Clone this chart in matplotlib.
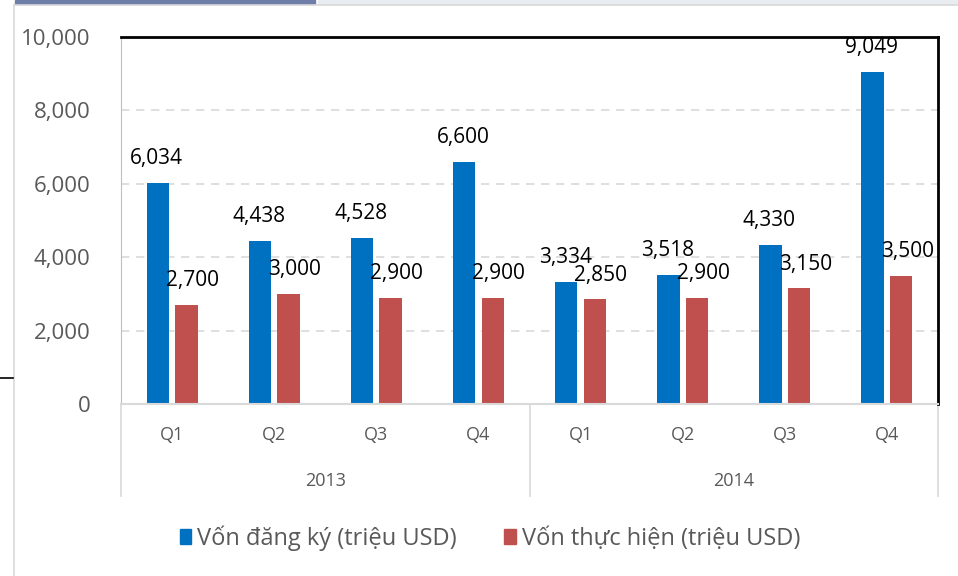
import matplotlib.pyplot as plt
import matplotlib.patches as mpatches
from matplotlib.lines import Line2D
import numpy as np

years = ["2013", "2014"]
quarters = ["Q1", "Q2", "Q3", "Q4", "Q1", "Q2", "Q3", "Q4"]
registered = [6034, 4438, 4528, 6600, 3334, 3518, 4330, 9049]
implemented = [2700, 3000, 2900, 2900, 2850, 2900, 3150, 3500]
series_names = ["Vốn đăng ký (triệu USD)", "Vốn thực hiện (triệu USD)"]

blue = "#0070C0"
red = "#C0504D"
grey_text = "#595959"
plt.rcParams["font.family"] = ["Open Sans", "DejaVu Sans"]

fig = plt.figure(figsize=(9.58, 5.76), dpi=100)
ax = fig.add_axes([121 / 958, 1 - 404 / 576, 817 / 958, 367 / 576])

# screenshot frame bits
fig.patches.append(mpatches.Rectangle((15 / 958, 1 - 4 / 576), 300 / 958, 4 / 576,
                                      transform=fig.transFigure, color="#6F7DA9"))
fig.patches.append(mpatches.Rectangle((318 / 958, 1 - 4 / 576), 640 / 958, 4 / 576,
                                      transform=fig.transFigure, color="#E9ECF1"))
fig.lines.append(Line2D([14 / 958, 1], [1 - 5 / 576] * 2, transform=fig.transFigure,
                        color="#D9D9D9", lw=1.2))
fig.lines.append(Line2D([14 / 958] * 2, [0, 1 - 5 / 576], transform=fig.transFigure,
                        color="#D9D9D9", lw=1.2))
fig.lines.append(Line2D([0, 13 / 958], [1 - 378 / 576] * 2, transform=fig.transFigure,
                        color="black", lw=1.2))

x = np.arange(len(quarters))
w = 0.22
ax.bar(x - 0.14, registered, w, color=blue)
ax.bar(x + 0.14, implemented, w, color=red)

for xi, v in zip(x, registered):
    ax.annotate(f"{v:,}", (xi - 0.15, v), xytext=(0, 10), textcoords="offset points",
                ha="center", va="bottom", fontsize=15)
for xi, v in zip(x, implemented):
    ax.annotate(f"{v:,}", (xi + 0.2, v), xytext=(0, 10), textcoords="offset points",
                ha="center", va="bottom", fontsize=15)

ax.set_xlim(-0.5, 7.5)
ax.set_ylim(0, 10000)
ax.set_yticks(range(0, 10001, 2000))
ax.yaxis.set_major_formatter(plt.FuncFormatter(lambda v, p: f"{int(v):,}"))
ax.tick_params(axis="y", length=0, labelsize=16, labelcolor=grey_text, pad=22)
ax.set_xticks([])
ax.grid(axis="y", color="#D9D9D9", linestyle=(0, (5, 4)), lw=1.2)
ax.set_axisbelow(True)

for s in ["top", "right"]:
    ax.spines[s].set_color("black")
    ax.spines[s].set_linewidth(2)
ax.spines["left"].set_color("#BFBFBF")
ax.spines["bottom"].set_color("#D9D9D9")
ax.spines["bottom"].set_linewidth(1.5)

# two-level category axis
tr = ax.get_xaxis_transform()
for xi, q in zip(x, quarters):
    ax.text(xi, -31 / 367, q, transform=tr, ha="center", va="center",
            fontsize=13, color=grey_text)
for i, yr in enumerate(years):
    ax.text(1.5 + 4 * i, -77 / 367, yr, transform=tr, ha="center", va="center",
            fontsize=13, color=grey_text)
for xs in [-0.5, 3.5, 7.5]:
    ax.plot([xs, xs], [0, -92 / 367], transform=tr, color="#D9D9D9", lw=1.2, clip_on=False)

handles = [mpatches.Patch(color=blue), mpatches.Patch(color=red)]
leg = fig.legend(handles, series_names, loc="center", bbox_to_anchor=(490 / 958, 1 - 538 / 576),
                 ncol=2, frameon=False, fontsize=17, handlelength=0.5, handleheight=0.55,
                 handletextpad=0.25, columnspacing=2.0)
for t in leg.get_texts():
    t.set_color(grey_text)

fig.savefig("out.png", dpi=100)
